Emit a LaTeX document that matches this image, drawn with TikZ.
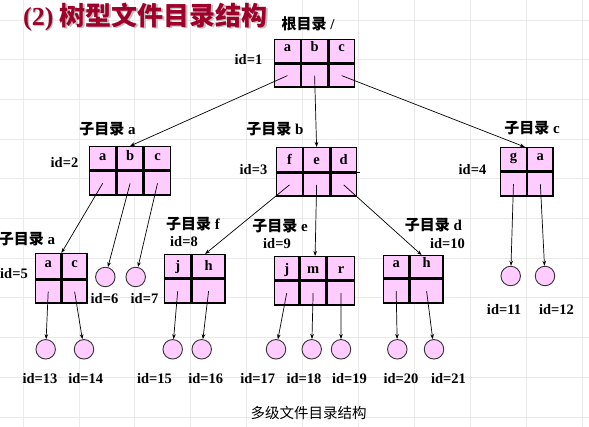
\documentclass[tikz,border=0pt]{standalone}
\usepackage{fontspec}
\setmainfont{Liberation Serif}
\newfontfamily\cjk{Noto Sans CJK SC}
\usetikzlibrary{arrows.meta}
\definecolor{pinkfill}{RGB}{255,204,255}
\definecolor{titlered}{RGB}{158,0,42}
\definecolor{gridgray}{RGB}{234,234,234}
\definecolor{shadowgray}{RGB}{190,190,190}
\begin{document}
\begin{tikzpicture}[x=1pt,y=-1pt,
  cell/.style={draw=black, line width=1.4pt, fill=pinkfill, inner sep=0pt, anchor=north west,
    font=\fontsize{14.5}{16}\selectfont\bfseries},
  leaf/.style={circle, draw=black!80, line width=0.9pt, fill=pinkfill, minimum size=19.5pt, inner sep=0pt},
  conn/.style={line width=0.7pt, -{Stealth[length=5pt,width=3.6pt]}},
  idlab/.style={font=\fontsize{14.5}{16}\selectfont\bfseries, inner sep=0pt},
  dirlab/.style={font=\fontsize{15}{17}\selectfont\bfseries, inner sep=0pt},
  titlefont/.style={inner sep=0pt, font=\fontsize{26}{28}\selectfont\bfseries},
]
\useasboundingbox (0,0) rectangle (589,427);
\fill[white] (0,0) rectangle (589,427);
% background grid
\foreach \k in {0,...,10} {
  \draw[gridgray, line width=0.8pt] ({23+55.9*\k},0) -- ({23+55.9*\k},427);
  \draw[gridgray, line width=0.8pt] (0,{20+39.7*\k}) -- (589,{20+39.7*\k});
}

% title with shadow
\node[titlefont, text=shadowgray] (titleshadow) at (146.7,18.2) {(2) {\cjk 树型文件目录结构}};
\node[titlefont, text=titlered] (title) at (145.5,17) {(2) {\cjk 树型文件目录结构}};

% ---------- root (id=1)
\node[cell, minimum width=25.67pt, minimum height=23pt, text height=6pt, text depth=6pt] (rta) at (274,39) {a};
\node[cell, minimum width=25.67pt, minimum height=23pt, text height=6pt, text depth=6pt] (rtb) at (rta.north east) {b};
\node[cell, minimum width=25.67pt, minimum height=23pt, text height=6pt, text depth=6pt] (rtc) at (rtb.north east) {c};
\node[cell, minimum width=25.67pt, minimum height=23pt] (rba) at (rta.south west) {};
\node[cell, minimum width=25.67pt, minimum height=23pt] (rbb) at (rba.north east) {};
\node[cell, minimum width=25.67pt, minimum height=23pt] (rbc) at (rbb.north east) {};
\node[dirlab] (lroot) at (308,23.5) {{\cjk 根目录} /};
\node[idlab] (id1) at (248.5,59.5) {id=1};

% ---------- id=2
\node[cell, minimum width=26pt, minimum height=23.5pt, text height=8pt, text depth=4pt] (b2ta) at (89,146) {a};
\node[cell, minimum width=26pt, minimum height=23.5pt, text height=8pt, text depth=4pt] (b2tb) at (b2ta.north east) {b};
\node[cell, minimum width=26pt, minimum height=23.5pt, text height=8pt, text depth=4pt] (b2tc) at (b2tb.north east) {c};
\node[cell, minimum width=26pt, minimum height=23.5pt] (b2ba) at (b2ta.south west) {};
\node[cell, minimum width=26pt, minimum height=23.5pt] (b2bb) at (b2ba.north east) {};
\node[cell, minimum width=26pt, minimum height=23.5pt] (b2bc) at (b2bb.north east) {};
\node[dirlab] (l2) at (107.5,129) {{\cjk 子目录} a};
\node[idlab] (id2) at (64.5,163) {id=2};

% ---------- id=3
\node[cell, minimum width=25.67pt, minimum height=24.5pt, text height=10.5pt, text depth=1.5pt] (b3tf) at (276,147) {f};
\node[cell, minimum width=25.67pt, minimum height=24.5pt, text height=10.5pt, text depth=1.5pt] (b3te) at (b3tf.north east) {e};
\node[cell, minimum width=25.67pt, minimum height=24.5pt, text height=10.5pt, text depth=1.5pt] (b3td) at (b3te.north east) {d};
\node[cell, minimum width=25.67pt, minimum height=22.5pt] (b3bf) at (b3tf.south west) {};
\node[cell, minimum width=25.67pt, minimum height=22.5pt] (b3be) at (b3bf.north east) {};
\node[cell, minimum width=25.67pt, minimum height=22.5pt] (b3bd) at (b3be.north east) {};
\draw[line width=1.2pt] (b3td.south east) -- ++(2.5,0);
\node[dirlab] (l3) at (275,129) {{\cjk 子目录} b};
\node[idlab] (id3) at (253.5,169.5) {id=3};

% ---------- id=4
\node[cell, minimum width=25.5pt, minimum height=23pt, text height=7.5pt, text depth=4.5pt] (b4tg) at (500,147) {g};
\node[cell, minimum width=25.5pt, minimum height=23pt, text height=7.5pt, text depth=4.5pt] (b4ta) at (b4tg.north east) {a};
\node[cell, minimum width=25.5pt, minimum height=24pt] (b4bg) at (b4tg.south west) {};
\node[cell, minimum width=25.5pt, minimum height=24pt] (b4ba) at (b4bg.north east) {};
\node[dirlab] (l4) at (532,128) {{\cjk 子目录} c};
\node[idlab] (id4) at (472.5,170) {id=4};

% ---------- id=5
\node[cell, minimum width=25pt, minimum height=25pt, text height=7.2pt, text depth=4.8pt] (b5ta) at (35,253) {a};
\node[cell, minimum width=25pt, minimum height=25pt, text height=7.2pt, text depth=4.8pt] (b5tc) at (b5ta.north east) {c};
\node[cell, minimum width=25pt, minimum height=23pt] (b5ba) at (b5ta.south west) {};
\node[cell, minimum width=25pt, minimum height=23pt] (b5bc) at (b5ba.north east) {};
\node[dirlab] (l5) at (27,239) {{\cjk 子目录} a};
\node[idlab] (id5) at (14,273.5) {id=5};

% ---------- id=8
\node[cell, minimum width=26pt, minimum height=23pt, text height=10.5pt, text depth=1.5pt] (b8tj) at (164,254) {j};
\node[cell, minimum width=33pt, minimum height=23pt, text height=10.5pt, text depth=1.5pt] (b8th) at (b8tj.north east) {h};
\node[cell, minimum width=26pt, minimum height=24pt] (b8bj) at (b8tj.south west) {};
\node[cell, minimum width=33pt, minimum height=24pt] (b8bh) at (b8bj.north east) {};
\node[dirlab] (l8) at (193,224.5) {{\cjk 子目录} f};
\node[idlab] (id8) at (184,241.5) {id=8};

% ---------- id=9
\node[cell, minimum width=24pt, minimum height=23pt, text height=11.8pt, text depth=0.2pt] (b9tj) at (274,256) {j};
\node[cell, minimum width=26pt, minimum height=23pt, text height=11.8pt, text depth=0.2pt] (b9tm) at (b9tj.north east) {m};
\node[cell, minimum width=27pt, minimum height=23pt, text height=11.8pt, text depth=0.2pt] (b9tr) at (b9tm.north east) {r};
\node[cell, minimum width=24pt, minimum height=24pt] (b9bj) at (b9tj.south west) {};
\node[cell, minimum width=26pt, minimum height=24pt] (b9bm) at (b9bj.north east) {};
\node[cell, minimum width=27pt, minimum height=24pt] (b9br) at (b9bm.north east) {};
\node[dirlab] (l9) at (280,226) {{\cjk 子目录} e};
\node[idlab] (id9) at (277,243.5) {id=9};

% ---------- id=10
\node[cell, minimum width=25pt, minimum height=22pt, text height=7pt, text depth=5pt] (b10ta) at (383,255) {a};
\node[cell, minimum width=33pt, minimum height=22pt, text height=7pt, text depth=5pt] (b10th) at (b10ta.north east) {h};
\node[cell, minimum width=25pt, minimum height=24pt] (b10ba) at (b10ta.south west) {};
\node[cell, minimum width=33pt, minimum height=24pt] (b10bh) at (b10ba.north east) {};
\node[dirlab] (l10) at (433.5,225) {{\cjk 子目录} d};
\node[idlab] (id10) at (447.5,244) {id=10};

% ---------- leaves
\node[leaf] (l6) at (105.3,277) {};
\node[leaf] (l7) at (135.7,277) {};
\node[leaf] (l11) at (510.7,276) {};
\node[leaf] (l12) at (545,276) {};
\node[leaf] (l13) at (45.7,349.3) {};
\node[leaf] (l14) at (84,349.3) {};
\node[leaf] (l15) at (172.7,349.3) {};
\node[leaf] (l16) at (201.7,349.3) {};
\node[leaf] (l17) at (276,349.3) {};
\node[leaf] (l18) at (311.7,349.3) {};
\node[leaf] (l19) at (341,349.3) {};
\node[leaf] (l20) at (397.3,349.3) {};
\node[leaf] (l21) at (434,349.3) {};

\node[idlab] (id6) at (104.5,298.5) {id=6};
\node[idlab] (id7) at (144.5,298.5) {id=7};
\node[idlab] (id11) at (504,309.5) {id=11};
\node[idlab] (id12) at (556.5,309.5) {id=12};
\node[idlab] (id13) at (40,378.5) {id=13};
\node[idlab] (id14) at (85.7,378.5) {id=14};
\node[idlab] (id15) at (154.5,378.5) {id=15};
\node[idlab] (id16) at (205.8,378.5) {id=16};
\node[idlab] (id17) at (257.7,378.5) {id=17};
\node[idlab] (id18) at (304,378.5) {id=18};
\node[idlab] (id19) at (349.5,378.5) {id=19};
\node[idlab] (id20) at (401,378.5) {id=20};
\node[idlab] (id21) at (448.5,378.5) {id=21};

% caption
\node[inner sep=0pt, font=\fontsize{14.5}{16}\selectfont\cjk] (cap) at (308.5,412.5) {多级文件目录结构};

% ---------- connectors
\draw[conn] (rba.center) -- (b2tb.north);
\draw[conn] (rbb.center) -- (b3te.north);
\draw[conn] (rbc.center) -- ([xshift=-2pt]b4tg.north east);

\draw[conn] (b2ba.center) -- (b5ta.north east);
\draw[conn] (b2bb.center) -- (l6);
\draw[conn] (b2bc.center) -- (l7);

\draw[conn] (b3bf.center) -- ([xshift=-3.5pt]b8th.north);
\draw[conn] (b3be.center) -- ([xshift=2pt]b9tm.north);
\draw[conn] (b3bd.center) -- ([xshift=-5pt]b10th.north);

\draw[conn] (b4bg.center) -- (l11);
\draw[conn] (b4ba.center) -- (l12);

\draw[conn] (b5ba.center) -- (l13);
\draw[conn] (b5bc.center) -- (l14);

\draw[conn] (b8bj.center) -- (l15);
\draw[conn] (b8bh.center) -- (l16);

\draw[conn] (b9bj.center) -- (l17);
\draw[conn] (b9bm.center) -- (l18);
\draw[conn] (b9br.center) -- (l19);

\draw[conn] (b10ba.center) -- (l20);
\draw[conn] (b10bh.center) -- (l21);
\end{tikzpicture}
\end{document}
